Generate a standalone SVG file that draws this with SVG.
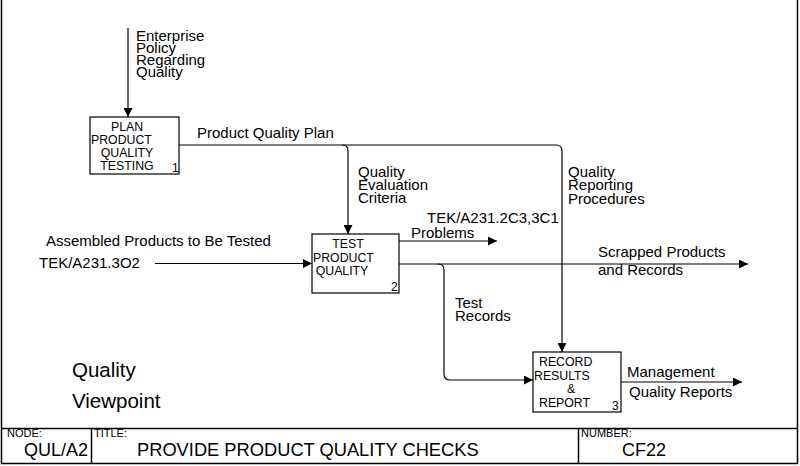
<svg xmlns="http://www.w3.org/2000/svg" width="800" height="466" viewBox="0 0 800 466">
<defs>
<marker id="ah" viewBox="0 0 10 10" refX="10" refY="5" markerWidth="10" markerHeight="9" markerUnits="userSpaceOnUse" orient="auto">
<path d="M0,0 L10,5 L0,10 z" fill="#000"/>
</marker>
<style>
text{font-family:"Liberation Sans",Arial,sans-serif;fill:#000}
.lbl{font-size:15px}
.box{fill:#fff;stroke:#000;stroke-width:1.2}
.bt{font-size:12.3px}
.num{font-size:12px}
.c{fill:none;stroke:#000;stroke-width:1.2}
.a{marker-end:url(#ah)}
.frame{fill:none;stroke:#000;stroke-width:1.5}
</style>
</defs>
<rect x="0" y="0" width="800" height="466" fill="#fff"/>

<g id="frame">
<line class="frame" x1="1.5" y1="0" x2="1.5" y2="464"/>
<line class="frame" x1="797.5" y1="0" x2="797.5" y2="464"/>
<line class="frame" x1="1" y1="428.5" x2="798" y2="428.5"/>
<line class="frame" x1="1" y1="463.5" x2="798" y2="463.5"/>
<line class="frame" x1="91.5" y1="428" x2="91.5" y2="464"/>
<line class="frame" x1="578.5" y1="428" x2="578.5" y2="464"/>
<text x="7" y="437" font-size="11">NODE:</text>
<text x="88" y="456" font-size="18">
<tspan text-anchor="end">QUL/A2</tspan></text>
<text x="94" y="437" font-size="11">TITLE:</text>
<text x="137" y="456" font-size="18.3">PROVIDE PRODUCT QUALITY CHECKS</text>
<text x="581" y="437" font-size="11">NUMBER:</text>
<text x="622" y="456" font-size="18">CF22</text>
</g>

<g id="connectors">
<path class="c a" d="M128,28 V117"/>
<path class="c a" d="M179,145 H556 Q562,145 562,151 V352"/>
<path class="c a" d="M342,145 Q348,145 348,151 V234"/>
<path class="c a" d="M155,263.5 H312"/>
<path class="c a" d="M399,241 H497"/>
<path class="c a" d="M399,264 H748"/>
<path class="c a" d="M438,264 Q444,264 444,270 V374 Q444,380 450,380 H533"/>
<path class="c a" d="M621,382 H742"/>
</g>

<g id="labels">
<text class="lbl" x="136" y="41">Enterprise</text>
<text class="lbl" x="136" y="53">Policy</text>
<text class="lbl" x="136" y="65">Regarding</text>
<text class="lbl" x="136" y="77">Quality</text>
<text class="lbl" x="197" y="138">Product Quality Plan</text>
<text class="lbl" x="358" y="177">Quality</text>
<text class="lbl" x="358" y="190">Evaluation</text>
<text class="lbl" x="358" y="203">Criteria</text>
<text class="lbl" x="568" y="177">Quality</text>
<text class="lbl" x="568" y="190">Reporting</text>
<text class="lbl" x="568" y="204">Procedures</text>
<text class="lbl" x="427" y="223">TEK/A231.2C3,3C1</text>
<text class="lbl" x="411" y="238">Problems</text>
<text class="lbl" x="46" y="246">Assembled Products to Be Tested</text>
<text class="lbl" x="39" y="268">TEK/A231.3O2</text>
<text class="lbl" x="598" y="257">Scrapped Products</text>
<text class="lbl" x="598" y="275">and Records</text>
<text class="lbl" x="455" y="308">Test</text>
<text class="lbl" x="455" y="321">Records</text>
<text class="lbl" x="627" y="377">Management</text>
<text class="lbl" x="629" y="397">Quality Reports</text>
<text x="72" y="377" font-size="20.5">Quality</text>
<text x="72" y="408" font-size="20.5">Viewpoint</text>
</g>

<g id="node1">
<rect class="box" x="90" y="117" width="89" height="57"/>
<text class="bt" x="127" y="131" text-anchor="middle">PLAN</text>
<text class="bt" x="91" y="144">PRODUCT</text>
<text class="bt" x="127" y="157" text-anchor="middle">QUALITY</text>
<text class="bt" x="127" y="170" text-anchor="middle">TESTING</text>
<text class="num" x="172" y="172">1</text>
</g>

<g id="node2">
<rect class="box" x="312" y="234" width="87" height="59"/>
<text class="bt" x="348" y="248" text-anchor="middle">TEST</text>
<text class="bt" x="313" y="262">PRODUCT</text>
<text class="bt" x="342" y="275" text-anchor="middle">QUALITY</text>
<text class="num" x="391" y="291">2</text>
</g>

<g id="node3">
<rect class="box" x="533" y="352" width="88" height="60"/>
<text class="bt" x="539" y="366">RECORD</text>
<text class="bt" x="534" y="380">RESULTS</text>
<text class="bt" x="567" y="393">&amp;</text>
<text class="bt" x="539" y="407">REPORT</text>
<text class="num" x="612" y="410">3</text>
</g>
</svg>
